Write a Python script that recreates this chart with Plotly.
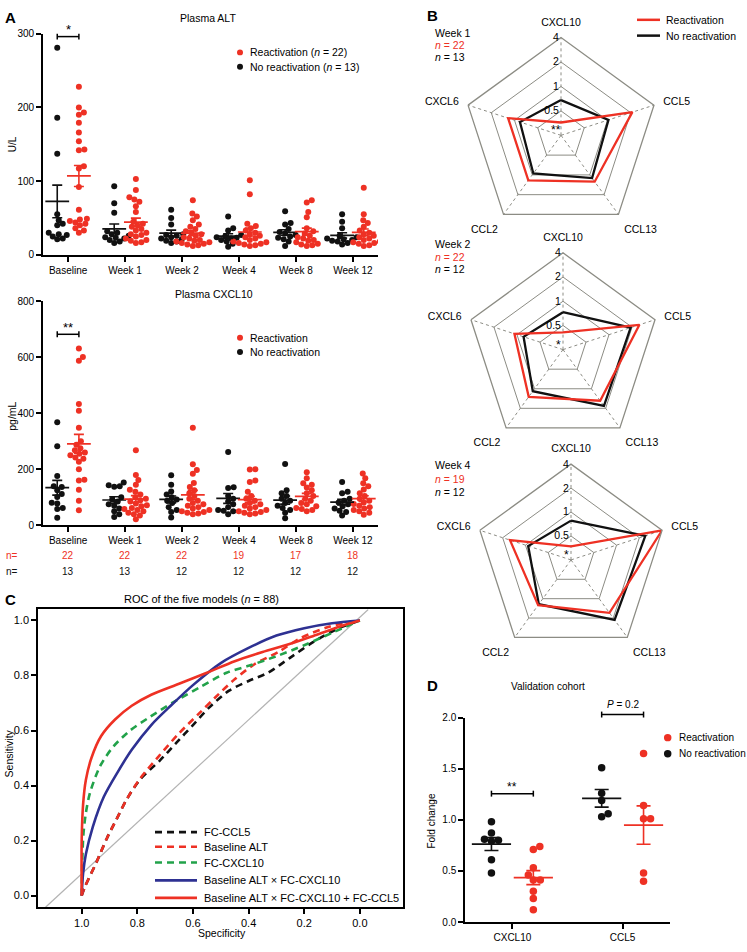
import numpy as np
import plotly.graph_objects as go

W, H = 747, 952
FONT = "Liberation Sans, Arial, Helvetica, sans-serif"
RED = "#ee3124"
BLACK = "#111111"
BLUE = "#2e3192"
GREEN = "#22a24a"
GRID = "#8c8c84"
DIAG = "#b3b3b3"

# ---------------- data ----------------
categories = ["Baseline", "Week 1", "Week 2", "Week 4", "Week 8", "Week 12"]
n_react = [22, 22, 22, 19, 17, 18]
n_noreact = [13, 13, 12, 12, 12, 12]

alt_react = [
    [228, 200, 193, 190, 179, 166, 154, 143, 142, 120, 117, 92, 61, 49, 48, 46, 44, 42, 40, 36, 33, 30],
    [103, 88, 78, 75, 72, 66, 58, 45, 42, 40, 38, 35, 33, 30, 28, 27, 25, 22, 20, 19, 17, 16],
    [74, 56, 52, 47, 41, 38, 35, 32, 30, 28, 26, 24, 22, 20, 19, 18, 17, 16, 15, 14, 13, 12],
    [101, 82, 42, 39, 36, 33, 30, 28, 26, 24, 22, 20, 18, 17, 16, 15, 14, 13, 12],
    [74, 71, 58, 51, 36, 32, 29, 26, 24, 22, 20, 19, 17, 15, 14, 13, 12],
    [91, 55, 47, 43, 38, 33, 30, 28, 26, 24, 22, 20, 18, 17, 16, 15, 13, 12],
]
alt_noreact = [
    [281, 186, 137, 55, 47, 42, 40, 30, 28, 27, 25, 22, 21],
    [93, 70, 57, 32, 30, 28, 26, 24, 23, 22, 20, 18, 16],
    [61, 50, 41, 27, 28, 26, 24, 22, 21, 19, 18, 16],
    [52, 36, 33, 27, 25, 24, 23, 22, 20, 18, 15, 11],
    [59, 43, 41, 35, 31, 29, 27, 25, 23, 21, 18, 12],
    [55, 45, 36, 26, 24, 22, 21, 20, 19, 18, 16, 14],
]
cxcl10_react = [
    [631, 601, 588, 433, 409, 348, 300, 288, 275, 268, 260, 256, 250, 242, 238, 227, 200, 163, 160, 127, 88, 54],
    [268, 180, 162, 145, 127, 120, 110, 100, 95, 90, 85, 78, 72, 68, 62, 58, 55, 50, 45, 40, 35, 22],
    [348, 218, 198, 184, 151, 137, 125, 115, 105, 95, 88, 80, 75, 70, 65, 60, 55, 50, 48, 45, 42, 40],
    [200, 199, 160, 155, 120, 105, 95, 88, 80, 75, 70, 65, 60, 55, 50, 48, 45, 42, 40],
    [190, 168, 150, 145, 135, 125, 115, 105, 95, 88, 80, 75, 68, 62, 58, 55, 50],
    [185, 168, 150, 140, 128, 115, 105, 95, 88, 82, 76, 70, 65, 60, 55, 50, 45, 38],
]
cxcl10_noreact = [
    [368, 282, 176, 140, 137, 125, 112, 101, 81, 78, 62, 58, 27],
    [153, 143, 140, 138, 100, 92, 85, 75, 70, 60, 50, 40, 30],
    [179, 145, 121, 110, 100, 92, 88, 80, 65, 55, 48, 28],
    [262, 136, 133, 105, 95, 85, 75, 65, 55, 52, 50, 40],
    [219, 125, 115, 105, 95, 88, 80, 70, 62, 55, 45, 25],
    [155, 120, 115, 95, 88, 82, 75, 68, 60, 52, 48, 35],
]

radar_axes = ["CXCL10", "CCL5", "CCL13", "CCL2", "CXCL6"]
radar_weeks = ["Week 1", "Week 2", "Week 4"]
radar_n_react = [22, 22, 19]
radar_n_noreact = [13, 12, 12]
radar_react = [
    [0.36, 2.1, 1.27, 1.21, 1.21],
    [0.41, 2.5, 1.53, 1.33, 1.08],
    [0.37, 4.0, 1.66, 1.26, 1.60],
]
radar_noreact = [
    [0.68, 1.03, 1.12, 0.95, 0.85],
    [0.73, 1.92, 1.84, 1.09, 0.82],
    [0.78, 2.40, 2.14, 1.22, 0.92],
]
radar_sig = ["**", "*", "*"]
radar_ticks = [0.5, 1, 2, 4]

roc_names = ["FC-CCL5", "Baseline ALT", "FC-CXCL10",
             "Baseline ALT × FC-CXCL10", "Baseline ALT × FC-CXCL10 + FC-CCL5"]
roc_spec = [
    [1.0, 0.988, 0.946, 0.91, 0.874, 0.838, 0.79, 0.72, 0.66, 0.60, 0.54, 0.47, 0.40, 0.33, 0.25, 0.17, 0.08, 0.0],
    [1.0, 0.988, 0.946, 0.91, 0.874, 0.838, 0.79, 0.72, 0.65, 0.575, 0.52, 0.449, 0.38, 0.287, 0.215, 0.108, 0.0],
    [1.0, 0.998, 0.994, 0.985, 0.97, 0.934, 0.886, 0.826, 0.754, 0.67, 0.575, 0.479, 0.40, 0.30, 0.20, 0.10, 0.0],
    [1.0, 0.995, 0.985, 0.96, 0.92, 0.87, 0.82, 0.75, 0.68, 0.60, 0.50, 0.40, 0.30, 0.20, 0.10, 0.0],
    [1.0, 1.0, 0.995, 0.985, 0.965, 0.93, 0.88, 0.82, 0.75, 0.65, 0.55, 0.45, 0.35, 0.25, 0.15, 0.05, 0.0],
]
roc_sens = [
    [0.0, 0.033, 0.123, 0.207, 0.279, 0.35, 0.422, 0.49, 0.555, 0.62, 0.685, 0.745, 0.78, 0.81, 0.865, 0.92, 0.97, 1.0],
    [0.0, 0.033, 0.123, 0.207, 0.279, 0.35, 0.425, 0.51, 0.59, 0.665, 0.72, 0.787, 0.84, 0.889, 0.935, 0.978, 1.0],
    [0.0, 0.12, 0.22, 0.30, 0.374, 0.47, 0.542, 0.60, 0.65, 0.703, 0.757, 0.81, 0.835, 0.87, 0.91, 0.955, 1.0],
    [0.0, 0.08, 0.15, 0.25, 0.36, 0.45, 0.53, 0.62, 0.69, 0.765, 0.845, 0.90, 0.945, 0.972, 0.99, 1.0],
    [0.0, 0.2, 0.33, 0.42, 0.50, 0.58, 0.64, 0.69, 0.73, 0.77, 0.81, 0.852, 0.885, 0.915, 0.95, 0.985, 1.0],
]
roc_colors = [BLACK, RED, GREEN, BLUE, RED]
roc_dash = ["7px,5px", "7px,5px", "7px,5px", "solid", "solid"]
diag_spec = [1.13, -0.03]
diag_sens = [-0.042, 1.04]

val_genes = ["CXCL10", "CCL5"]
val_react = [[0.74, 0.71, 0.53, 0.46, 0.41, 0.41, 0.30, 0.23, 0.12],
             [1.65, 1.14, 1.01, 1.01, 0.48, 0.40]]
val_noreact = [[0.98, 0.87, 0.81, 0.80, 0.79, 0.61, 0.48],
               [1.51, 1.26, 1.19, 1.06, 1.03]]

# ---------------- geometry helpers ----------------
def fx(px):
    return px / W


def fy(py):
    return 1 - py / H


def lin(v, r0, r1, p0, p1):
    return p0 + (v - r0) / (r1 - r0) * (p1 - p0)


A_XR, A_XPX = [-0.44, 5.44], (43, 378)
ALT_YR, ALT_YPX = [0, 300], (252, 28)
CX_YR, CX_YPX = [0, 800], (526, 299)
C_XR, C_XPX = [1.157, -0.155], (38, 403)
C_YR, C_YPX = [-0.042, 1.0405], (912.7, 611)
D_XR, D_XPX = [-0.43, 1.43], (465, 670)
D_YR, D_YPX = [0, 2], (927.7, 720.7)
OFF = 0.19


def ppu(rng, px):
    return abs(px[1] - px[0]) / abs(rng[1] - rng[0])


def swarm(values, yppu, diam, xppu):
    vals = np.asarray(values, float)
    order = np.argsort(vals)
    placed = []
    offs = np.zeros(len(vals))
    cands = [0.0]
    for k in range(1, 120):
        cands += [k * 0.5, -k * 0.5]
    for idx in order:
        y = vals[idx] * yppu
        for c in cands:
            if all((c - px) ** 2 + (y - py) ** 2 >= diam ** 2 for py, px in placed):
                break
        placed.append((y, c))
        offs[idx] = c / xppu
    return offs


fig = go.Figure()
shapes, annotations = [], []


def ann(x, y, text, size=10, color="black", xanchor="center", yanchor="middle", angle=0):
    annotations.append(dict(x=fx(x), y=fy(y), xref="paper", yref="paper", text=text,
                            showarrow=False, xanchor=xanchor, yanchor=yanchor, textangle=angle,
                            font=dict(family=FONT, size=size, color=color)))


def seg(x0, y0, x1, y1, color="black", width=1.5, dash="solid"):
    shapes.append(dict(type="line", xref="paper", yref="paper", x0=fx(x0), y0=fy(y0),
                       x1=fx(x1), y1=fy(y1), line=dict(color=color, width=width, dash=dash)))


def dot(x, y, d, color):
    shapes.append(dict(type="circle", xref="paper", yref="paper", x0=fx(x - d / 2), x1=fx(x + d / 2),
                       y0=fy(y + d / 2), y1=fy(y - d / 2), fillcolor=color, line=dict(width=0)))


def bracket(x0, x1, y, cap=3, width=1.5):
    seg(x0, y, x1, y, width=width)
    seg(x0, y - cap, x0, y + cap, width=width)
    seg(x1, y - cap, x1, y + cap, width=width)


def dot_panel(d_no, d_re, xa, ya, xppu, yppu, size, diam, meanw, capw):
    for data, color, off in ((d_no, BLACK, -OFF), (d_re, RED, OFF)):
        xs, ys = [], []
        for i, vals in enumerate(data):
            o = swarm(vals, yppu, diam, xppu)
            xs.extend((i + off + o).tolist())
            ys.extend(vals)
        fig.add_trace(go.Scatter(x=xs, y=ys, mode="markers", xaxis=xa, yaxis=ya,
                                 marker=dict(size=size, color=color, line=dict(width=0)),
                                 showlegend=False, hoverinfo="y"))
    for data, color, off in ((d_no, BLACK, -OFF), (d_re, RED, OFF)):
        means = [float(np.mean(v)) for v in data]
        sems = [float(np.std(v, ddof=1) / np.sqrt(len(v))) for v in data]
        fig.add_trace(go.Scatter(x=[i + off for i in range(len(data))], y=means, mode="markers",
                                 xaxis=xa, yaxis=ya, showlegend=False, hoverinfo="y",
                                 marker=dict(symbol="line-ew", size=meanw, color=color,
                                             line=dict(width=1.7, color=color)),
                                 error_y=dict(type="data", array=sems, visible=True, color=color,
                                              thickness=1.6, width=capw)))


# ---------------- Panel A ----------------
A_XPPU = ppu(A_XR, A_XPX)
dot_panel(alt_noreact, alt_react, "x", "y", A_XPPU, ppu(ALT_YR, ALT_YPX), 6, 5.4, 17, 5)
dot_panel(cxcl10_noreact, cxcl10_react, "x2", "y2", A_XPPU, ppu(CX_YR, CX_YPX), 6, 5.4, 17, 5)

ann(10, 12, "<b>A</b>", size=15)
ann(208, 12, "Plasma ALT", size=10.5)
ann(214, 292, "Plasma CXCL10", size=10.5)
ann(12, 140, "U/L", size=10, angle=-90)
ann(12, 415, "pg/mL", size=10.5, angle=-90)

# significance A
bx0 = lin(0 - OFF, *A_XR, *A_XPX)
bx1 = lin(0 + OFF, *A_XR, *A_XPX)
yb = lin(296, *ALT_YR, *ALT_YPX)
bracket(bx0, bx1, yb)
ann((bx0 + bx1) / 2, yb - 7, "*", size=13)
yb2 = lin(682, *CX_YR, *CX_YPX)
bracket(bx0, bx1, yb2)
ann((bx0 + bx1) / 2, yb2 - 7, "**", size=13)

# legends A
for (ly, lab_r, lab_b) in ((47, "Reactivation (<i>n</i> = 22)", "No reactivation (<i>n</i> = 13)"),
                           (336, "Reactivation", "No reactivation")):
    dot(240, ly, 6, RED)
    ann(248, ly, lab_r, size=10.5, xanchor="left")
    dot(240, ly + 14.5, 6, BLACK)
    ann(248, ly + 14.5, lab_b, size=10.5, xanchor="left")

# n rows
ann(4, 557, "n=", size=10, color=RED, xanchor="left")
ann(4, 573, "n=", size=10, color=BLACK, xanchor="left")
for i in range(len(categories)):
    cx = lin(i, *A_XR, *A_XPX)
    ann(cx, 557, str(n_react[i]), size=10, color=RED)
    ann(cx, 573, str(n_noreact[i]), size=10, color=BLACK)

# ---------------- Panel B (radar) ----------------
radar_geom = [(561, 131, 99), (563, 348, 98), (571, 561, 97)]
week_text_y = [(27, 40, 52), (241, 254, 266), (465, 479, 492)]
polar_names = ["polar", "polar2", "polar3"]
polar_layouts = {}
for k in range(3):
    cx, cy, R = radar_geom[k]
    pn = polar_names[k]
    for vals, color in ((radar_noreact[k], BLACK), (radar_react[k], RED)):
        fig.add_trace(go.Scatterpolar(r=vals + vals[:1], theta=radar_axes + radar_axes[:1],
                                      mode="lines", subplot=pn, showlegend=False,
                                      line=dict(color=color, width=2.3)))
    polar_layouts[pn] = dict(
        domain=dict(x=[fx(cx - R), fx(cx + R)], y=[fy(cy + R), fy(cy - R)]),
        bgcolor="white", gridshape="linear",
        angularaxis=dict(type="category", categoryarray=radar_axes, rotation=90,
                         direction="clockwise", showline=True, linecolor=GRID, linewidth=1.3,
                         gridcolor=GRID, gridwidth=0.8, griddash="3px,3px",
                         ticks="outside", ticklen=7, tickcolor="rgba(0,0,0,0)",
                         tickfont=dict(family=FONT, size=10.5, color="black")),
        radialaxis=dict(type="log", range=[np.log10(0.25), np.log10(4)], tickvals=radar_ticks,
                        ticktext=[str(t) for t in radar_ticks], angle=90, side="counterclockwise",
                        showline=False, linecolor=GRID, tickcolor=GRID, ticks="",
                        gridcolor=GRID, gridwidth=1.3, tickangle=90,
                        tickfont=dict(family=FONT, size=10.5, color="black")),
    )
    ann(cx - 5, cy - 5, radar_sig[k], size=12)
    ty = week_text_y[k]
    ann(433, ty[0], radar_weeks[k], size=10.5, xanchor="left")
    ann(433, ty[1], "<i>n</i> = %d" % radar_n_react[k], size=10.5, color=RED, xanchor="left")
    ann(433, ty[2], "<i>n</i> = %d" % radar_n_noreact[k], size=10.5, xanchor="left")

ann(432, 10, "<b>B</b>", size=15)
seg(637, 14, 660, 14, color=RED, width=2.5)
ann(664, 14, "Reactivation", size=10.5, xanchor="left")
seg(637, 30, 660, 30, color=BLACK, width=2.5)
ann(664, 30, "No reactivation", size=10.5, xanchor="left")

# ---------------- Panel C (ROC) ----------------
fig.add_trace(go.Scatter(x=diag_spec, y=diag_sens, mode="lines", xaxis="x3", yaxis="y3",
                         line=dict(color=DIAG, width=1.2), showlegend=False, hoverinfo="skip"))
for k in range(len(roc_names)):
    fig.add_trace(go.Scatter(x=roc_spec[k], y=roc_sens[k], mode="lines", xaxis="x3", yaxis="y3",
                             name=roc_names[k], showlegend=False,
                             line=dict(color=roc_colors[k], width=2.6, dash=roc_dash[k],
                                       shape="spline", smoothing=0.8)))
ann(10, 601, "<b>C</b>", size=15)
ann(202, 601, "ROC of the five models (<i>n</i> = 88)", size=11)
ann(222, 939, "Specificity", size=10.5)
ann(9, 757, "Sensitivity", size=10.5, angle=-90)
leg_y = [836.7, 851.5, 867.5, 885.5, 903.3]
for k in range(len(roc_names)):
    seg(155, leg_y[k], 197, leg_y[k], color=roc_colors[k], width=2.6,
        dash=roc_dash[k])
    ann(202, leg_y[k], roc_names[k], size=11, xanchor="left")

# ---------------- Panel D ----------------
dot_panel(val_noreact, val_react, "x4", "y4", ppu(D_XR, D_XPX), ppu(D_YR, D_YPX), 7.5, 7, 28, 7)
ann(432, 688, "<b>D</b>", size=15)
ann(548, 689, "Validation cohort", size=10)
ann(432, 826, "Fold change", size=10, angle=-90)
d0 = lin(0 - OFF, *D_XR, *D_XPX)
d1 = lin(0 + OFF, *D_XR, *D_XPX)
ydb = lin(1.256, *D_YR, *D_YPX)
bracket(d0, d1, ydb)
ann((d0 + d1) / 2, ydb - 7, "**", size=12)
e0 = lin(1 - OFF, *D_XR, *D_XPX)
e1 = lin(1 + OFF, *D_XR, *D_XPX)
yeb = lin(2.03, *D_YR, *D_YPX)
bracket(e0, e1, yeb)
ann((e0 + e1) / 2, yeb - 10, "<i>P</i> = 0.2", size=10)
dot(667.7, 741, 7.5, RED)
ann(676.7, 741, "Reactivation", size=10, xanchor="left")
dot(667.7, 757.3, 7.5, BLACK)
ann(676.7, 757.3, "No reactivation", size=10, xanchor="left")


# ---------------- axes ----------------
def axstyle(**kw):
    base = dict(showgrid=False, zeroline=False, showline=True, linecolor="black", linewidth=1.8,
                ticks="outside", ticklen=5, tickwidth=1.5, tickcolor="black",
                tickfont=dict(family=FONT, size=10, color="black"))
    base.update(kw)
    return base


roc_ticks = [1.0, 0.8, 0.6, 0.4, 0.2, 0.0]
fig.update_layout(
    width=W, height=H, margin=dict(l=0, r=0, t=0, b=0),
    paper_bgcolor="white", plot_bgcolor="white", showlegend=False,
    font=dict(family=FONT, size=10, color="black"),
    xaxis=axstyle(domain=[fx(A_XPX[0]), fx(A_XPX[1])], range=A_XR, tickvals=list(range(6)),
                  ticktext=categories, anchor="y"),
    yaxis=axstyle(domain=[fy(ALT_YPX[0]), fy(ALT_YPX[1])], range=ALT_YR,
                  tickvals=[0, 100, 200, 300], anchor="x"),
    xaxis2=axstyle(domain=[fx(A_XPX[0]), fx(A_XPX[1])], range=A_XR, tickvals=list(range(6)),
                   ticktext=categories, anchor="y2"),
    yaxis2=axstyle(domain=[fy(CX_YPX[0]), fy(CX_YPX[1])], range=CX_YR,
                   tickvals=[0, 200, 400, 600, 800], anchor="x2"),
    xaxis3=axstyle(domain=[fx(C_XPX[0]), fx(C_XPX[1])], range=C_XR, tickvals=roc_ticks,
                   ticktext=["%.1f" % t for t in roc_ticks], mirror=True, anchor="y3",
                   linewidth=1.6, tickfont=dict(family=FONT, size=11, color="black")),
    yaxis3=axstyle(domain=[fy(C_YPX[0]), fy(C_YPX[1])], range=C_YR, tickvals=roc_ticks,
                   ticktext=["%.1f" % t for t in roc_ticks], mirror=True, anchor="x3",
                   linewidth=1.6, tickfont=dict(family=FONT, size=11, color="black")),
    xaxis4=axstyle(domain=[fx(D_XPX[0]), fx(D_XPX[1])], range=D_XR, tickvals=[0, 1],
                   ticktext=val_genes, anchor="y4", linewidth=1.5),
    yaxis4=axstyle(domain=[fy(D_YPX[0]), fy(D_YPX[1])], range=D_YR,
                   tickvals=[0, 0.5, 1, 1.5, 2], ticktext=["0.0", "0.5", "1.0", "1.5", "2.0"],
                   anchor="x4", linewidth=1.5),
    shapes=shapes, annotations=annotations,
    **polar_layouts,
)

fig.write_html("out.html", config={"displayModeBar": False},
               post_script="document.body.style.margin='0';document.body.style.overflow='hidden';")
